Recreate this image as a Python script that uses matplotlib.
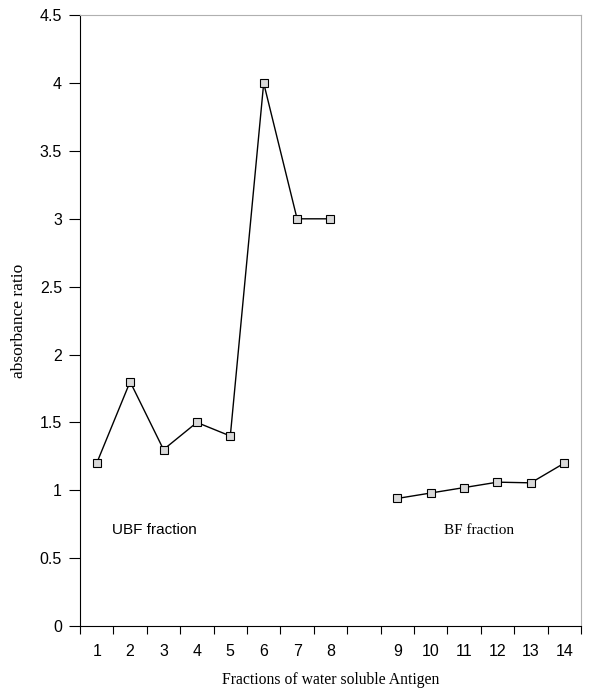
import matplotlib
matplotlib.use("Agg")
import matplotlib.pyplot as plt

# categories along the x axis (one empty slot between the two groups)
ubf_labels = ["1", "2", "3", "4", "5", "6", "7", "8"]
bf_labels = ["9", "10", "11", "12", "13", "14"]
ubf_values = [1.2, 1.8, 1.3, 1.5, 1.4, 4.0, 3.0, 3.0]
bf_values = [0.94, 0.98, 1.02, 1.06, 1.055, 1.2]
y_ticks = [0, 0.5, 1, 1.5, 2, 2.5, 3, 3.5, 4, 4.5]

ubf_pos = list(range(len(ubf_labels)))
bf_pos = [len(ubf_labels) + 1 + i for i in range(len(bf_labels))]
n_slots = len(ubf_labels) + 1 + len(bf_labels)

fig = plt.figure(figsize=(5.91, 6.91), dpi=100)
ax = fig.add_axes([0.1354, 0.094, 0.8476, 0.884])

marker_style = dict(marker="s", markersize=6, markerfacecolor="#d9d9d9",
                    markeredgecolor="black", markeredgewidth=0.8,
                    color="black", linewidth=1)
ax.plot(ubf_pos, ubf_values, **marker_style)
ax.plot(bf_pos, bf_values, **marker_style)

ax.set_xlim(-0.5, n_slots - 0.5)
ax.set_ylim(0, 4.5)
ax.set_yticks(y_ticks)
ax.set_yticklabels([f"{v:g}" for v in y_ticks], family="Liberation Sans", fontsize=11.5)

# ticks at slot boundaries, labels at slot centres
ax.set_xticks([i - 0.5 for i in range(n_slots + 1)])
ax.set_xticklabels([])
ax.set_xticks(ubf_pos + bf_pos, minor=True)
ax.set_xticklabels(ubf_labels + bf_labels, minor=True,
                   family="Liberation Sans", fontsize=11.5)
ax.tick_params(axis="x", which="minor", length=0, pad=13)
ax.tick_params(axis="x", which="major", length=6, width=0.8, direction="out")
ax.tick_params(axis="y", length=8, width=0.8, direction="out", pad=5)

for side in ("top", "right"):
    ax.spines[side].set_color("#b0b0b0")
    ax.spines[side].set_linewidth(0.8)
for side in ("left", "bottom"):
    ax.spines[side].set_linewidth(0.8)

ax.text(0.45, 0.707, "UBF fraction", family="Liberation Sans", fontsize=11, va="center")
ax.text(10.4, 0.707, "BF fraction", family="Liberation Serif", fontsize=11, va="center")

ax.set_ylabel("absorbance ratio", family="Liberation Serif", fontsize=12.5, labelpad=9)
ax.set_xlabel("Fractions of water soluble Antigen", family="Liberation Serif",
              fontsize=11.3, labelpad=9)

fig.savefig("out.png", dpi=100)
